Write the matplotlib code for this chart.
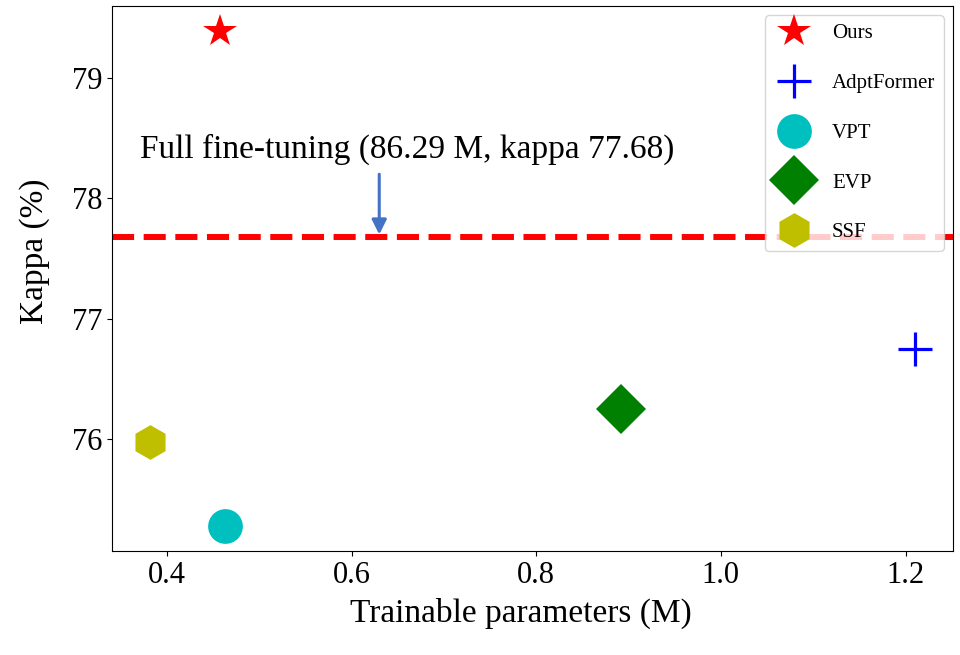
import matplotlib
matplotlib.use("Agg")
import matplotlib.pyplot as plt

plt.rcParams['font.family'] = ['Liberation Serif', 'DejaVu Serif']
plt.rcParams['mathtext.fontset'] = 'stix'

methods = ["Ours", "AdptFormer", "VPT", "EVP", "SSF"]
params = [0.458, 1.21, 0.463, 0.892, 0.382]
kappa = [79.39, 76.75, 75.28, 76.25, 75.98]
markers = ["*", "+", "o", "D", "h"]
colors = ["red", "blue", "c", "green", "y"]

full_ft_kappa = 77.68
full_ft_text = "Full fine-tuning (86.29 M, kappa 77.68)"

fig = plt.figure(figsize=(9.6, 6.55), dpi=100)
ax = fig.add_axes([0.1167, 0.1588, 0.876, 0.832])

for m, x, y, mk, c in zip(methods, params, kappa, markers, colors):
    kw = dict(markeredgewidth=2.3) if mk == "+" else dict(markeredgewidth=0)
    ax.plot([x], [y], linestyle="none", marker=mk, color=c, markersize=25,
            label=m, **kw)

ax.axhline(full_ft_kappa, color="red", linestyle="--", linewidth=4.3, zorder=1)

ax.annotate("", xy=(0.63, full_ft_kappa + 0.02), xytext=(0.63, 78.2),
            arrowprops=dict(arrowstyle="-|>", color="#4472C4", lw=2.2,
                            mutation_scale=22, shrinkA=0, shrinkB=0))
ax.text(0.6607, 78.41, full_ft_text, ha="center", va="center", fontsize=24)

ax.set_xlabel("Trainable parameters (M)", fontsize=24)
ax.set_ylabel("Kappa (%)", fontsize=24)
ax.tick_params(labelsize=22)
ax.set_xticks([0.4, 0.6, 0.8, 1.0, 1.2])
ax.set_yticks([76, 77, 78, 79])
ax.xaxis.set_label_coords(0.486, -0.085)
ax.yaxis.set_label_coords(-0.074, 0.55)

ax.legend(loc="upper right", fontsize=15, labelspacing=1.45, handletextpad=0.8,
          borderpad=0.4, borderaxespad=0.45, markerscale=1.0)

fig.savefig("out.png", dpi=100)
